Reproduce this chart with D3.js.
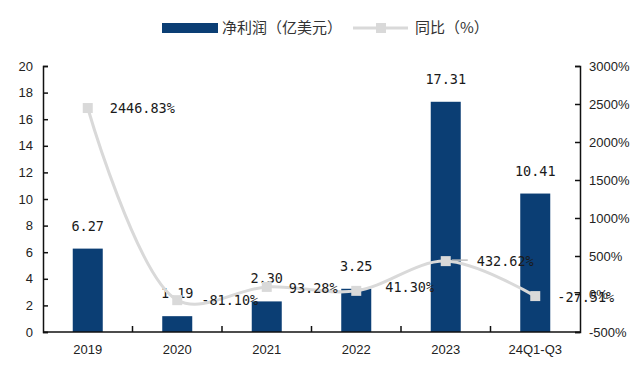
<!DOCTYPE html>
<html>
<head>
<meta charset="utf-8">
<script src="https://cdn.jsdelivr.net/npm/d3@7"></script>
<style>
  body { margin: 0; background: #fff; }
  svg { display: block; }
</style>
</head>
<body>
<svg id="chart" width="632" height="368"></svg>
<script>
// Net profit (100M USD) and year-on-year growth (%)
const categories = ["2019", "2020", "2021", "2022", "2023", "24Q1-Q3"];
const profit = [6.27, 1.19, 2.30, 3.25, 17.31, 10.41];
const growth = [2446.83, -81.10, 93.28, 41.30, 432.62, -27.51];
const profitTicks = [0, 2, 4, 6, 8, 10, 12, 14, 16, 18, 20];
const growthTicks = [-500, 0, 500, 1000, 1500, 2000, 2500, 3000];

const svg = d3.select("#chart");
const plotL = 43, plotR = 580, plotT = 66, plotB = 332;
const barColor = "#0b3e74";
const lineColor = "#d9d9d9";
const tickFont = "'Liberation Sans', Arial, sans-serif";
const labelFont = "'DejaVu Sans Mono', monospace";
const cjkFont = "'Noto Sans CJK SC', sans-serif";

const x = d3.scaleBand().domain(categories).range([plotL, plotR]).paddingInner(0).paddingOuter(0);
const yL = d3.scaleLinear().domain([0, 20]).range([plotB, plotT]);
const yR = d3.scaleLinear().domain([-500, 3000]).range([plotB, plotT]);
const barW = 30;

// bars
svg.append("g").selectAll("rect").data(profit).join("rect")
  .attr("x", (d, i) => x(categories[i]) + x.bandwidth() / 2 - barW / 2)
  .attr("y", d => yL(d))
  .attr("width", barW)
  .attr("height", d => yL(0) - yL(d))
  .attr("fill", barColor);

// bar value labels
svg.append("g").selectAll("text").data(profit).join("text")
  .attr("x", (d, i) => x(categories[i]) + x.bandwidth() / 2)
  .attr("y", d => yL(d) - 18)
  .attr("text-anchor", "middle")
  .attr("font-family", labelFont)
  .attr("font-size", 13.5)
  .attr("fill", "#1a1a1a")
  .text(d => d.toFixed(2));

// axes
const axisL = d3.axisRight(yL).tickValues(profitTicks).tickSize(5).tickFormat(d3.format("d"));
const gL = svg.append("g").attr("transform", `translate(${plotL},0)`).call(axisL);
gL.selectAll("text").attr("x", -10).attr("text-anchor", "end");

const axisR = d3.axisLeft(yR).tickValues(growthTicks).tickSize(5).tickFormat(d => d + "%");
const gR = svg.append("g").attr("transform", `translate(${plotR},0)`).call(axisR);
gR.selectAll("text").attr("x", 9).attr("text-anchor", "start");

const xTicks = d3.range(1, categories.length).map(i => x(categories[i]));
const axisX = d3.axisBottom(x).tickSize(0).tickPadding(13);
const gX = svg.append("g").attr("transform", `translate(0,${plotB})`).call(axisX);
gX.selectAll("g.tick line").remove();
gX.selectAll(".bnd").data(xTicks).join("line").attr("class", "bnd")
  .attr("x1", d => d).attr("x2", d => d).attr("y1", 0).attr("y2", -6);

[gL, gR, gX].forEach(g => {
  g.select(".domain").attr("stroke", "#111").attr("stroke-width", 1.5);
  g.selectAll("line").attr("stroke", "#111").attr("stroke-width", 1.5);
  g.selectAll("text").attr("font-family", tickFont).attr("font-size", 13).attr("fill", "#222");
});
gX.select(".domain").attr("d", `M${plotL},0H${plotR}`);

// growth line
const pts = growth.map((g, i) => [x(categories[i]) + x.bandwidth() / 2, yR(g)]);
const line = d3.line().curve(d3.curveCatmullRom.alpha(0.5));
svg.append("path").attr("d", line(pts))
  .attr("fill", "none").attr("stroke", lineColor).attr("stroke-width", 3);

// leader from the 2023 point to its label
svg.append("line")
  .attr("x1", pts[4][0] + 6).attr("x2", pts[4][0] + 22)
  .attr("y1", pts[4][1] - 1).attr("y2", pts[4][1] - 1)
  .attr("stroke", "#bdbdbd").attr("stroke-width", 1.5);

svg.append("g").selectAll("rect").data(pts).join("rect")
  .attr("x", d => d[0] - 5).attr("y", d => d[1] - 5)
  .attr("width", 10).attr("height", 10)
  .attr("fill", lineColor);

// growth value labels
const labelDx = [22, 24, 22, 29, 31, 22];
const labelDy = [0, 0, 1, -4, 0, 1];
svg.append("g").selectAll("text").data(growth).join("text")
  .attr("x", (d, i) => pts[i][0] + labelDx[i])
  .attr("y", (d, i) => pts[i][1] + labelDy[i])
  .attr("dy", "0.35em")
  .attr("font-family", labelFont)
  .attr("font-size", 13.5)
  .attr("fill", "#1a1a1a")
  .text(d => d.toFixed(2) + "%");

// legend
const lg = svg.append("g");
lg.append("rect").attr("x", 162).attr("y", 23).attr("width", 56).attr("height", 10).attr("fill", barColor);
lg.append("text").attr("x", 222).attr("y", 28).attr("dy", "0.35em")
  .attr("font-family", cjkFont).attr("font-size", 15).attr("fill", "#333")
  .text("净利润（亿美元）");
lg.append("line").attr("x1", 353).attr("x2", 408).attr("y1", 28).attr("y2", 28)
  .attr("stroke", lineColor).attr("stroke-width", 3);
lg.append("rect").attr("x", 376).attr("y", 23).attr("width", 10).attr("height", 10).attr("fill", lineColor);
lg.append("text").attr("x", 415).attr("y", 28).attr("dy", "0.35em")
  .attr("font-family", cjkFont).attr("font-size", 15).attr("fill", "#333")
  .text("同比（%）");
</script>
</body>
</html>
